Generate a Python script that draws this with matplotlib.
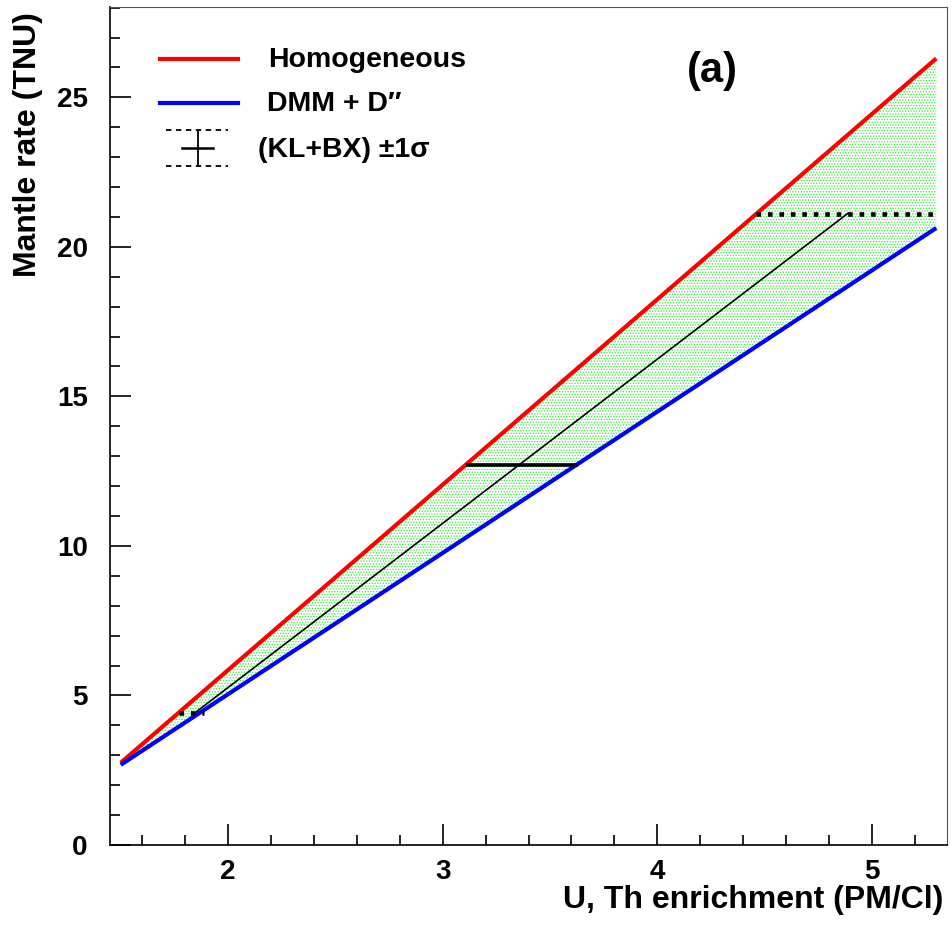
import matplotlib
matplotlib.use("Agg")
import matplotlib.pyplot as plt
import numpy as np

plt.rcParams['font.family'] = ['Liberation Sans', 'DejaVu Sans']
plt.rcParams['hatch.linewidth'] = 0.6

# ---- data ----
enrichment = [1.5, 5.3]                # U, Th enrichment (PM/Cl)
homogeneous_rate = [2.75, 26.3]        # TNU
dmm_rate = [2.68, 20.63]               # TNU
central_x = [1.846, 4.89]
central_y = [4.42, 21.13]
measured_rate = 12.7
measured_x = [3.11, 3.63]
lower_rate = 4.42
lower_x = [1.77, 1.89]
upper_rate = 21.1
upper_x = [4.46, 5.3]
legend_labels = ["Homogeneous", "DMM + D\u2033", "(KL+BX) \u00b11\u03c3"]

W, H = 953, 925
fig = plt.figure(figsize=(W / 100, H / 100), dpi=100)
ax = fig.add_axes([110 / W, 1 - 845 / H, (947 - 110) / W, (845 - 7) / H])

ex = np.array(enrichment)
ax.fill_between(ex, dmm_rate, homogeneous_rate, facecolor='none',
                edgecolor='#33ee33', hatch='......', linewidth=0)
ax.plot(enrichment, homogeneous_rate, color='#ff0000', lw=3.0, solid_capstyle='butt', zorder=4)
ax.plot(enrichment, dmm_rate, color='#0000ff', lw=3.0, solid_capstyle='butt', zorder=4)
ax.plot(central_x, central_y, color='black', lw=1.2, zorder=5)
ax.plot(measured_x, [measured_rate] * 2, color='black', lw=2.6, solid_capstyle='butt', zorder=5)
ax.plot(lower_x, [lower_rate] * 2, color='black', lw=3.3, ls=(0, (1, 1.5)),
        dash_capstyle='butt', zorder=6)
ax.plot(upper_x, [upper_rate] * 2, color='black', lw=3.3, ls=(0, (1, 1.5)),
        dash_capstyle='butt', zorder=6)

ax.set_xlim(1.45, 5.35)
ax.set_ylim(0, 28.02)
ax.set_xticks([2, 3, 4, 5])
ax.set_yticks([0, 5, 10, 15, 20, 25])
ax.set_xticks(np.arange(1.6, 5.35, 0.2), minor=True)
ax.set_yticks(np.arange(0, 28.01, 1), minor=True)
ax.tick_params(which='both', direction='in', top=False, right=False, width=1.2)
ax.tick_params(which='major', length=15)
ax.tick_params(which='minor', length=7)
ax.tick_params(axis='x', which='major', pad=10, labelsize=20)
ax.tick_params(axis='y', which='major', pad=16, labelsize=20)
for lab in ax.get_xticklabels() + ax.get_yticklabels():
    lab.set_fontweight('bold')
for s in ax.spines.values():
    s.set_linewidth(1.2)
for s in ['top', 'right']:
    ax.spines[s].set_color('#555555')
    ax.spines[s].set_linewidth(0.8)

fig.text(943 / W, 1 - 900 / H, "U, Th enrichment (PM/Cl)", ha='right', va='center',
         fontsize=23, fontweight='bold')
fig.text(28 / W, 1 - 12 / H, "Mantle rate (TNU)", ha='center', va='top', rotation=90,
         fontsize=23, fontweight='bold')
fig.text(712 / W, 1 - 71 / H, "(a)", ha='center', va='center', fontsize=30, fontweight='bold')

# legend (drawn manually like ROOT's TLegend)
def fx(x):
    return x / W

def fy(y):
    return 1 - y / H

fig.add_artist(plt.Line2D([fx(160), fx(238)], [fy(59), fy(59)], color='#ff0000', lw=3.0))
fig.add_artist(plt.Line2D([fx(160), fx(238)], [fy(103), fy(103)], color='#0000ff', lw=3.0))
fig.add_artist(plt.Line2D([fx(166), fx(228)], [fy(130), fy(130)], color='black', lw=1.3,
                          ls=(0, (3, 2.5))))
fig.add_artist(plt.Line2D([fx(166), fx(228)], [fy(166), fy(166)], color='black', lw=1.3,
                          ls=(0, (3, 2.5))))
fig.add_artist(plt.Line2D([fx(182), fx(213)], [fy(148), fy(148)], color='black', lw=1.8))
fig.add_artist(plt.Line2D([fx(198), fx(198)], [fy(131), fy(166)], color='black', lw=1.3))
fig.text(fx(268), fy(60), legend_labels[0], ha='left', va='center', fontsize=20.5, fontweight='bold')
fig.text(fx(267), fy(104), legend_labels[1], ha='left', va='center', fontsize=20.5, fontweight='bold')
fig.text(fx(258), fy(150), legend_labels[2], ha='left', va='center', fontsize=20.5, fontweight='bold')

fig.savefig("out.png", dpi=100)
